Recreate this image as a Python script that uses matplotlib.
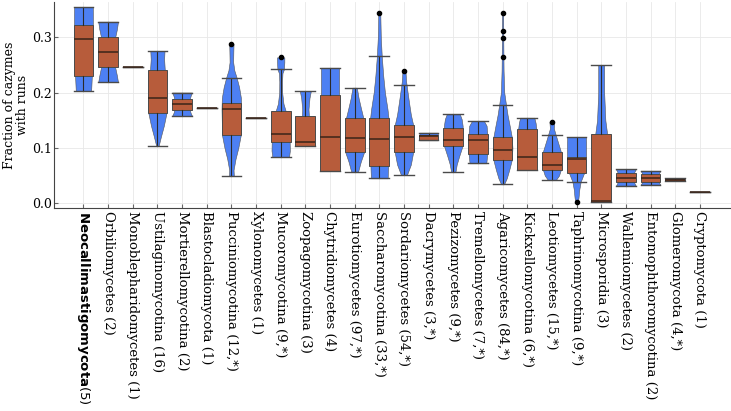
import matplotlib
matplotlib.use("Agg")
import matplotlib.pyplot as plt

plt.rcParams.update({"font.family": "DejaVu Serif", "mathtext.fontset": "dejavusans",
                     "font.size": 9})

# lineages, left to right (sorted by median)
groups = ["Neocallimastigomycota", "Orbiliomycetes", "Monoblepharidomycetes",
          "Ustilaginomycotina", "Mortierellomycotina", "Blastocladiomycota",
          "Pucciniomycotina", "Xylonomycetes", "Mucoromycotina", "Zoopagomycotina",
          "Chytridiomycetes", "Eurotiomycetes", "Saccharomycotina", "Sordariomycetes",
          "Dacrymycetes", "Pezizomycetes", "Tremellomycetes", "Agaricomycetes",
          "Kickxellomycotina", "Leotiomycetes", "Taphrinomycotina", "Microsporidia",
          "Wallemiomycetes", "Entomophthoromycotina", "Glomeromycota", "Cryptomycota"]
counts = ["5", "2", "1", "16", "2", "1", "12,*", "1", "9,*", "3", "4", "97,*", "33,*",
          "54,*", "3,*", "9,*", "7,*", "84,*", "6,*", "15,*", "9,*", "3", "2", "2",
          "4,*", "1"]

# box statistics
whislo = [0.203, 0.219, 0.247, 0.1034, 0.158, 0.1715, 0.0498, 0.154, 0.084, 0.104,
          0.059, 0.057, 0.0451, 0.0511, 0.1137, 0.0565, 0.0722, 0.0343, 0.0601, 0.042,
          0.039, 0.0018, 0.0318, 0.0336, 0.0403, 0.0199]
q1 = [0.230, 0.247, 0.247, 0.1636, 0.168, 0.1715, 0.1233, 0.154, 0.1112, 0.104,
      0.059, 0.092, 0.0679, 0.092, 0.1137, 0.1029, 0.0884, 0.0776, 0.0601, 0.0601,
      0.0542, 0.0018, 0.039, 0.039, 0.0408, 0.0199]
med = [0.296, 0.274, 0.247, 0.191, 0.179, 0.1715, 0.1697, 0.154, 0.1245, 0.111,
       0.1197, 0.1184, 0.1155, 0.119, 0.121, 0.1137, 0.1137, 0.0957, 0.0836, 0.0686,
       0.0805, 0.0036, 0.0462, 0.0462, 0.042, 0.0199]
q3 = [0.322, 0.300, 0.247, 0.240, 0.189, 0.1715, 0.1805, 0.154, 0.1666, 0.157,
      0.195, 0.154, 0.154, 0.1408, 0.1233, 0.1359, 0.1245, 0.1197, 0.1341, 0.0931,
      0.0841, 0.1256, 0.0542, 0.0523, 0.0440, 0.0199]
whishi = [0.354, 0.328, 0.247, 0.275, 0.200, 0.1715, 0.2267, 0.154, 0.242, 0.203,
          0.2448, 0.2087, 0.2653, 0.2135, 0.1275, 0.1606, 0.149, 0.1776, 0.1545, 0.1238,
          0.1197, 0.2496, 0.0614, 0.0588, 0.0451, 0.0199]
outliers = {"Pucciniomycotina": [0.288], "Mucoromycotina": [0.2635],
            "Saccharomycotina": [0.343], "Sordariomycetes": [0.2394],
            "Agaricomycetes": [0.2635, 0.2984, 0.3105, 0.344],
            "Leotiomycetes": [0.1468], "Taphrinomycotina": [0.0018]}

# violin outlines: value levels and relative half-widths (1 = full width)
violin_y = {
    "Neocallimastigomycota": [0.203, 0.23, 0.28, 0.32, 0.34, 0.354],
    "Orbiliomycetes": [0.219, 0.23, 0.247, 0.274, 0.300, 0.315, 0.328],
    "Ustilaginomycotina": [0.1034, 0.12, 0.14, 0.163, 0.19, 0.24, 0.26, 0.275],
    "Mortierellomycotina": [0.158, 0.164, 0.179, 0.193, 0.200],
    "Pucciniomycotina": [0.0498, 0.06, 0.08, 0.10, 0.123, 0.17, 0.19, 0.21, 0.227,
                         0.24, 0.255, 0.275, 0.288],
    "Mucoromycotina": [0.084, 0.095, 0.12, 0.15, 0.167, 0.18, 0.20, 0.22, 0.235,
                       0.242, 0.255, 0.2635],
    "Zoopagomycotina": [0.104, 0.12, 0.14, 0.157, 0.17, 0.19, 0.203],
    "Chytridiomycetes": [0.059, 0.12, 0.195, 0.2448],
    "Eurotiomycetes": [0.057, 0.075, 0.092, 0.12, 0.154, 0.17, 0.19, 0.2087],
    "Saccharomycotina": [0.0451, 0.068, 0.10, 0.154, 0.17, 0.20, 0.23, 0.265, 0.30,
                         0.343],
    "Sordariomycetes": [0.0511, 0.07, 0.092, 0.12, 0.14, 0.16, 0.18, 0.20, 0.22,
                        0.2394],
    "Dacrymycetes": [0.1137, 0.121, 0.1275],
    "Pezizomycetes": [0.0565, 0.07, 0.085, 0.103, 0.12, 0.14, 0.152, 0.1606],
    "Tremellomycetes": [0.0722, 0.09, 0.11, 0.1245, 0.14, 0.149],
    "Agaricomycetes": [0.0343, 0.045, 0.06, 0.078, 0.10, 0.12, 0.14, 0.16, 0.18,
                       0.20, 0.24, 0.30, 0.344],
    "Kickxellomycotina": [0.0601, 0.08, 0.11, 0.134, 0.145, 0.1545],
    "Leotiomycetes": [0.042, 0.05, 0.06, 0.08, 0.095, 0.11, 0.124, 0.135, 0.1468],
    "Taphrinomycotina": [0.0018, 0.01, 0.025, 0.039, 0.054, 0.07, 0.09, 0.11, 0.1197],
    "Microsporidia": [0.0018, 0.06, 0.1256, 0.15, 0.20, 0.2496],
    "Wallemiomycetes": [0.0318, 0.039, 0.0462, 0.0542, 0.0614],
    "Entomophthoromycotina": [0.0336, 0.039, 0.0462, 0.0523, 0.0588],
    "Glomeromycota": [0.0403, 0.0451],
}
violin_w = {
    "Neocallimastigomycota": [0.78, 0.85, 0.95, 0.96, 0.96, 0.95],
    "Orbiliomycetes": [1.0, 0.9, 0.7, 0.6, 0.72, 0.9, 1.0],
    "Ustilaginomycotina": [0.12, 0.35, 0.65, 0.92, 0.95, 0.75, 0.68, 0.72],
    "Mortierellomycotina": [1.0, 0.85, 0.7, 0.85, 1.0],
    "Pucciniomycotina": [0.25, 0.22, 0.42, 0.7, 0.95, 1.0, 0.97, 0.78, 0.53, 0.3,
                         0.18, 0.2, 0.22],
    "Mucoromycotina": [0.85, 0.93, 0.9, 0.7, 0.5, 0.28, 0.15, 0.14, 0.18, 0.33, 0.37,
                       0.37],
    "Zoopagomycotina": [0.95, 0.9, 0.6, 0.36, 0.32, 0.42, 0.56],
    "Chytridiomycetes": [0.9, 0.9, 0.92, 0.92],
    "Eurotiomycetes": [0.35, 0.62, 0.95, 1.0, 0.88, 0.66, 0.4, 0.22],
    "Saccharomycotina": [0.85, 0.9, 0.95, 0.93, 0.83, 0.57, 0.4, 0.25, 0.15, 0.1],
    "Sordariomycetes": [0.3, 0.7, 0.93, 1.0, 0.95, 0.7, 0.53, 0.37, 0.22, 0.15],
    "Dacrymycetes": [0.9, 0.95, 0.92],
    "Pezizomycetes": [0.22, 0.35, 0.6, 0.93, 0.95, 0.95, 0.85, 0.67],
    "Tremellomycetes": [0.85, 0.95, 0.98, 0.95, 0.88, 0.6],
    "Agaricomycetes": [0.15, 0.42, 0.67, 0.93, 1.0, 0.93, 0.72, 0.5, 0.33, 0.17, 0.1,
                       0.07, 0.06],
    "Kickxellomycotina": [0.9, 0.95, 0.95, 0.92, 0.85, 0.72],
    "Leotiomycetes": [0.4, 0.72, 0.9, 1.0, 0.88, 0.62, 0.38, 0.2, 0.25],
    "Taphrinomycotina": [0.12, 0.2, 0.28, 0.42, 0.75, 0.95, 0.97, 0.97, 0.95],
    "Microsporidia": [0.9, 0.9, 0.6, 0.42, 0.3, 0.3],
    "Wallemiomycetes": [1.0, 0.8, 0.7, 0.8, 1.0],
    "Entomophthoromycotina": [1.0, 0.8, 0.7, 0.8, 1.0],
    "Glomeromycota": [0.9, 0.9],
}

VIOLIN = "#4d80f3"
BOX = "#b75c3b"
EDGE = "#4a4a4a"
WIDTH = 0.8

fig = plt.figure(figsize=(7.31, 4.11), dpi=100)
ax = fig.add_axes([0.0745, 0.494, 0.925, 0.501])

pos = list(range(1, len(groups) + 1))
for p, g in zip(pos, groups):
    if g not in violin_y:
        continue
    ys = violin_y[g]
    hw = [w * WIDTH / 2 for w in violin_w[g]]
    ax.fill_betweenx(ys, [p - h for h in hw], [p + h for h in hw], color=VIOLIN,
                     ec="#555555", lw=0.4, zorder=2)

stats = []
for i, g in enumerate(groups):
    stats.append({"whislo": whislo[i], "q1": q1[i], "med": med[i], "q3": q3[i],
                  "whishi": whishi[i], "fliers": outliers.get(g, [])})
ax.bxp(stats, positions=pos, widths=WIDTH, capwidths=WIDTH, patch_artist=True,
       boxprops=dict(facecolor=BOX, edgecolor=EDGE, lw=0.7),
       medianprops=dict(color="#3a2418", lw=1.1),
       whiskerprops=dict(color="#2a2a2a", lw=0.8),
       capprops=dict(color=EDGE, lw=1.0),
       flierprops=dict(marker="o", ms=3, mfc="black", mec="black"),
       zorder=3)

labels = [r"$\mathbf{Neocallimastigomycota}\mathrm{(5)}$"] + \
         [f"{g} ({c})" for g, c in zip(groups[1:], counts[1:])]
ax.set_xticks(pos, labels, rotation=-90, fontsize=9.5)
ax.set_xlim(1 - 1.176, len(groups) + 1.25)
ax.set_ylim(-0.0085, 0.3634)
ax.set_yticks([0.0, 0.1, 0.2, 0.3])
ax.set_ylabel("Fraction of cazymes\nwith runs", labelpad=2, linespacing=1.0)

ax.grid(True, color="#e8e8e8", lw=0.6)
ax.set_axisbelow(True)
for s in ("top", "right"):
    ax.spines[s].set_visible(False)
for s in ("left", "bottom"):
    ax.spines[s].set_color("#444444")
ax.tick_params(direction="in", length=3, color="#666666", pad=2)

fig.savefig("out.png", dpi=100)
